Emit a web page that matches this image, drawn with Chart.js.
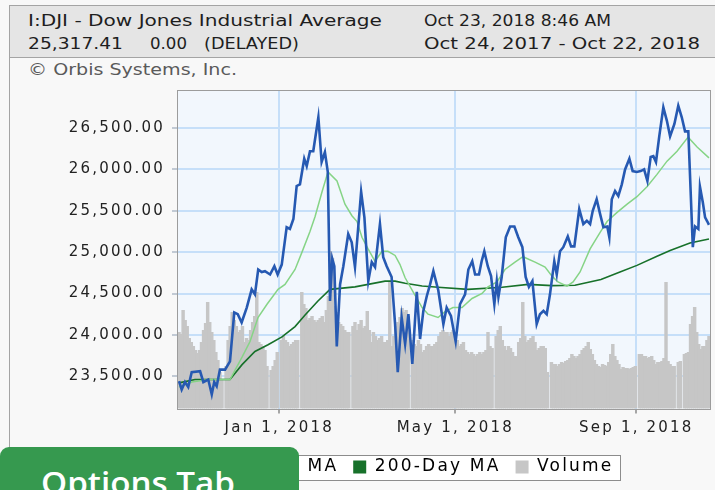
<!DOCTYPE html>
<html>
<head>
<meta charset="utf-8">
<script src="https://cdn.jsdelivr.net/npm/chart.js@4.4.0/dist/chart.umd.min.js"></script>
<style>
  html, body { margin: 0; padding: 0; }
  body { width: 715px; height: 490px; overflow: hidden; position: relative; background: #f8f8f8; font-family: 'DejaVu Sans', sans-serif; }
  #frame { position: absolute; left: 9px; top: 5px; width: 720px; height: 480px; border-left: 1px solid #a4a4a4; }
  #band { position: absolute; left: 9px; top: 5px; width: 706px; height: 51px; background: #e5e5e5; border: 1px solid #a4a4a4; border-right: none; }
  .t { position: absolute; font-size: 15px; line-height: 17px; color: #1e1e1e; white-space: nowrap; transform-origin: 0 0; }
  .c { color: #5a5a5a; }
  #chart { position: absolute; left: 0; top: 0; }
  #tab { position: absolute; left: 0; top: 447px; width: 299px; height: 60px; background: #36994f; border-radius: 9px 9px 0 0; }
  #tab span { position: absolute; left: 41px; top: 20px; font-family: 'Open Sans', sans-serif; font-weight: 600; font-size: 31px; line-height: 31px; color: #fff; white-space: nowrap; transform-origin: 0 0; }
</style>
</head>
<body>
<div id="frame"></div>
<div id="band"></div>
<span class="t" style="left:28px;top:13px" data-w="354">I:DJI - Dow Jones Industrial Average</span>
<span class="t" style="left:424px;top:13px" data-w="187">Oct 23, 2018 8:46 AM</span>
<span class="t" style="left:28px;top:36px" data-w="95">25,317.41</span>
<span class="t" style="left:150px;top:36px" data-w="37">0.00</span>
<span class="t" style="left:204px;top:36px" data-w="95">(DELAYED)</span>
<span class="t" style="left:424px;top:36px" data-w="276">Oct 24, 2017 - Oct 22, 2018</span>
<span class="t c" style="left:28px;top:62px" data-w="209">© Orbis Systems, Inc.</span>
<canvas id="chart" width="715" height="490"></canvas>
<div id="tab"><span data-w="194">Options Tab</span></div>
<script>
// x positions are weekday slots counted from Tue Oct 24, 2017 (slot 0)
const xTickPos = [49, 135, 223.5];
const xTickLabels = ['Jan 1, 2018', 'May 1, 2018', 'Sep 1, 2018'];
const yTicks = [23500, 24000, 24500, 25000, 25500, 26000, 26500];
const seriesNames = ['I:DJI', '50-Day MA', '200-Day MA', 'Volume'];

const priceX = [0, 1.3, 2.9, 4.5, 6.2, 10.3, 11.9, 14.3, 16, 17.2, 18.4, 20, 22.5, 24.9, 27, 28.7, 30.6, 33.1, 35.5, 37.1,
  38.7, 40.4, 42, 44.5, 46.6, 48.2, 50.2, 52.6, 54.2, 55.9, 57.5, 59.1, 61.2, 62.4, 64, 65.6, 68.1, 69.7, 71.3, 72.7,
  73.8, 74.9, 75.9, 77.1, 78.7, 80.3, 82.7, 84.4, 86, 89, 90.6, 92.5, 94.2, 95.8, 98.2, 99.8, 101.5, 103.9, 105.6, 106.9,
  108.8, 110.5, 112.1, 114, 116.2, 117.8, 119.4, 121.1, 122.7, 124.3, 126.7, 129.2, 130.8, 132.9, 135.2, 137.3, 139.8, 141.4, 143.3, 144.7,
  146.6, 147.9, 149.2, 150.9, 152.5, 154.1, 155.3, 156.1, 157.7, 159.7, 161.8, 163.9, 165.8, 167.8, 169.4, 171, 172.7, 174.8, 176.4, 178.1,
  179.7, 181.3, 183.4, 184.6, 186.2, 187.8, 190, 191.6, 193.2, 195.6, 197.6, 199.3, 200.9, 202.2, 204.1, 205.8, 207.4, 209.3, 210.3, 211.5,
  213.1, 214.7, 216.4, 218, 220.1, 221.7, 223.7, 225.6, 227.3, 228.9, 230.5, 231.8, 233.1, 234.7, 236.7, 238.4, 240, 242.1, 244, 245.7,
  247.3, 248.9, 251.1, 252.2, 253.8, 254.6, 256, 257.1, 258.2, 259];
const priceY = [23440, 23340, 23430, 23370, 23550, 23560, 23430, 23460, 23280, 23430, 23380, 23580, 23580, 23680, 24270, 24250, 24150, 24330, 24550, 24490,
  24790, 24760, 24770, 24730, 24830, 24730, 24850, 25300, 25280, 25400, 25800, 25820, 26130, 26040, 26220, 26220, 26630, 26090, 26210, 25970,
  24410, 24920, 24830, 23860, 24610, 24830, 25220, 25120, 24820, 25730, 25420, 24650, 24880, 24820, 25340, 24940, 24830, 24700, 24130, 23550,
  24210, 23890, 24250, 23650, 24520, 23950, 24290, 24470, 24610, 24770, 24540, 24130, 24330, 24230, 23920, 24370, 24490, 24790, 24890, 24730,
  24730, 24890, 25010, 24830, 24710, 24370, 24650, 24460, 24700, 25180, 25310, 25310, 25180, 25060, 24700, 24580, 24650, 24130, 24250, 24290,
  24250, 24490, 24890, 24730, 25010, 25060, 25190, 25070, 25070, 25520, 25340, 25380, 25340, 25500, 25640, 25460, 25300, 25310, 25180, 25640,
  25740, 25680, 25820, 26000, 26130, 25980, 25970, 25980, 26000, 25860, 26150, 26160, 26090, 26400, 26750, 26590, 26400, 26550, 26770, 26630,
  26460, 26460, 25060, 25310, 25280, 25790, 25600, 25420, 25370, 25330];

const ma50X = [0, 6.3, 14.2, 24.9, 30.8, 34.7, 38.6, 43, 48.4, 51.8, 56.7, 60.1, 64, 66.5, 69.9, 72.8, 77.2, 81.1, 84.5, 87,
  89.4, 92.4, 95.8, 99.2, 102.1, 105.6, 108, 110.5, 114.4, 118.8, 121.7, 126.6, 130, 133.9, 138.3, 143.2, 148.1, 151, 155.4, 159.3,
  164.2, 168.1, 174, 178.9, 182.3, 185.2, 189.6, 192.6, 196, 200.9, 205.8, 209.2, 214.1, 219, 223.8, 228.7, 233.6, 238.5, 243.4, 248.8,
  253.2, 259];
const ma50Y = [23370, 23430, 23460, 23460, 23730, 23920, 24210, 24370, 24550, 24610, 24790, 25000, 25250, 25430, 25730, 25970, 25860, 25580, 25440, 25370,
  25180, 25040, 24890, 25010, 25010, 24960, 24850, 24690, 24520, 24330, 24250, 24210, 24280, 24330, 24330, 24440, 24500, 24580, 24640, 24790,
  24880, 24945, 24880, 24820, 24710, 24640, 24590, 24640, 24760, 25040, 25240, 25370, 25480, 25580, 25670, 25790, 25940, 26100, 26220, 26390,
  26270, 26140];

const ma200X = [0, 7.8, 24.9, 30.8, 37.1, 43.5, 50.3, 56.7, 61.6, 67.9, 73.8, 86, 92.4, 100.7, 105.6, 110.5, 118.8, 126.6, 141.2, 157.9,
  170.6, 182.3, 193.5, 206.2, 215.5, 223.8, 233.6, 240, 249.7, 259];
const ma200Y = [23420, 23460, 23460, 23640, 23800, 23880, 23975, 24100, 24240, 24410, 24550, 24580, 24610, 24650, 24650, 24625, 24590, 24575, 24550, 24575,
  24610, 24595, 24600, 24670, 24760, 24840, 24950, 25020, 25110, 25160];

// volume (millions), one per weekday slot; null = market closed
const volume = [
  228, 222, 294, 264, 246, 210, 198, 186, 174, 165,
  174, 198, 234, 255, 318, 258, 228, 204, 168, 144,
  108, 87, null, 126, 204, 246, 288, 264, 246, 228,
  234, 246, 198, 210, 204, 234, 258, 276, 348, 198,
  192, 186, 174, 126, null, 114, 126, 144, 168, null,
  204, 216, 204, 198, 186, 192, 198, 204, 204, null,
  348, 312, 300, 264, 270, 276, 264, 258, 264, 270,
  276, 258, 294, 336, 471, 450, 306, 288, 258, 252,
  246, 234, 228, 228, null, 246, 258, 234, 252, 264,
  240, 246, 291, 234, 198, 228, 216, 204, 210, 216,
  198, 198, 204, 378, 186, 216, 246, 258, 273, 300,
  288, 294, 276, null, 204, 192, 186, 204, 192, 168,
  174, 186, 192, 186, 186, 192, 198, 216, 228, 234,
  228, 228, 216, 228, 234, 210, 204, 186, 192, 198,
  174, 168, 162, 168, 162, 156, 162, 168, 162, 168,
  174, 228, 186, 180, null, 216, 234, 246, 204, 186,
  174, 186, 180, 168, 156, 156, 198, 210, 318, 216,
  198, 204, 210, 216, 198, 174, 180, 186, 186, 180,
  108, null, 138, 132, 132, 126, 132, 138, 135, 141,
  144, 150, 162, 156, 150, 156, 162, 174, 180, 186,
  198, 177, 162, 144, 132, 126, 123, 132, 129, 126,
  138, 162, 192, 156, 144, 132, 117, 123, 120, 120,
  117, 120, 123, 126, null, 162, 162, 156, 156, 150,
  153, 156, 144, 132, 138, 138, 141, 150, 378, 141,
  132, 126, 126, null, 138, 141, null, 162, 165, 168,
  252, 276, 303, 228, 192, 177, 186, 186, 204, 216
];

const seriesColors = ['#2659b2', '#86d486', '#17712a', '#c6c6c6'];
const gridColor = '#c6dff9';

const toPoints = (xs, ys) => xs.map((x, i) => ({ x: x, y: ys[i] }));

// fit header texts to the widths they have in the picture
document.querySelectorAll('[data-w]').forEach(el => {
  const w = el.getBoundingClientRect().width;
  el.style.transform = 'scaleX(' + (el.dataset.w / w) + ')';
});

const legendBox = chart => {
  const boxes = chart.legend.legendHitBoxes;
  const first = boxes[0], last = boxes[boxes.length - 1];
  const l = Math.round(first.left - 6) + 0.5;
  const r = Math.round(last.left + last.width + 7) + 0.5;
  const t = Math.round(first.top - 4) + 0.5;
  const b = Math.round(first.top + first.height + 4) + 0.5;
  return { l, r, t, b };
};

const plotBackground = {
  id: 'plotBackground',
  beforeDraw(chart) {
    const { ctx, chartArea: a } = chart;
    ctx.save();
    ctx.fillStyle = '#f2f7fd';
    ctx.fillRect(a.left, a.top, a.right - a.left, a.bottom - a.top);
    const lb = legendBox(chart);
    ctx.fillStyle = '#ffffff';
    ctx.fillRect(lb.l, lb.t, lb.r - lb.l, lb.b - lb.t);
    ctx.strokeStyle = '#8c8c8c';
    ctx.lineWidth = 1;
    ctx.strokeRect(lb.l, lb.t, lb.r - lb.l, lb.b - lb.t);
    ctx.restore();
  }
};

// the picture's labels are widely spaced
const letterSpacing = {
  id: 'letterSpacing',
  beforeLayout(chart) { chart.ctx.letterSpacing = '2.2px'; },
  afterLayout(chart) {
    // legend sits a little right of the page centre
    chart.legend.left += 9;
    chart.legend.right += 9;
  },
  beforeDraw(chart) { chart.ctx.letterSpacing = '2.2px'; }
};

const frames = {
  id: 'frames',
  afterDraw(chart) {
    const { ctx, chartArea: a } = chart;
    ctx.save();
    ctx.strokeStyle = '#9c9c9c';
    ctx.lineWidth = 1;
    ctx.strokeRect(Math.round(a.left) - 0.5, Math.round(a.top) + 0.5,
      Math.round(a.right - a.left) + 1, Math.round(a.bottom - a.top));
    ctx.restore();
  }
};

Chart.defaults.font.family = "'DejaVu Sans', sans-serif";
Chart.defaults.font.size = 15;
Chart.defaults.color = '#222';

new Chart(document.getElementById('chart'), {
  type: 'bar',
  data: {
    datasets: [
      {
        type: 'line', label: seriesNames[0], data: toPoints(priceX, priceY), yAxisID: 'y',
        borderColor: seriesColors[0], backgroundColor: seriesColors[0], borderWidth: 2.6,
        pointRadius: 0, tension: 0, order: 1
      },
      {
        type: 'line', label: seriesNames[1], data: toPoints(ma50X, ma50Y), yAxisID: 'y',
        borderColor: seriesColors[1], backgroundColor: seriesColors[1], borderWidth: 1.5,
        pointRadius: 0, tension: 0, order: 2
      },
      {
        type: 'line', label: seriesNames[2], data: toPoints(ma200X, ma200Y), yAxisID: 'y',
        borderColor: seriesColors[2], backgroundColor: seriesColors[2], borderWidth: 1.6,
        pointRadius: 0, tension: 0, order: 3
      },
      {
        type: 'bar', label: seriesNames[3], yAxisID: 'y2',
        data: volume.map((v, i) => (v === null ? null : { x: i, y: v })).filter(p => p !== null),
        backgroundColor: seriesColors[3], borderWidth: 0,
        barThickness: 2.8, order: 4
      }
    ]
  },
  options: {
    responsive: false,
    devicePixelRatio: 1,
    animation: false,
    events: [],
    layout: { padding: { left: 8, top: 90, right: 5, bottom: 4.5 } },
    plugins: {
      tooltip: { enabled: false },
      legend: {
        position: 'bottom',
        labels: {
          boxWidth: 13,
          boxHeight: 13,
          padding: 15,
          color: '#222',
          font: { size: 17 },
          generateLabels: chart => chart.data.datasets.map((ds, i) => ({
            text: ds.label, fillStyle: seriesColors[i], strokeStyle: seriesColors[i],
            lineWidth: 0, hidden: false, datasetIndex: i
          }))
        }
      }
    },
    scales: {
      x: {
        type: 'linear',
        min: -0.5,
        max: 259.5,
        offset: false,
        afterBuildTicks: s => { s.ticks = xTickPos.map(v => ({ value: v })); },
        afterFit: s => { s.height = 35; },
        ticks: {
          callback: (v, i) => xTickLabels[i],
          autoSkip: false, maxRotation: 0, padding: 6, color: '#222'
        },
        grid: { color: gridColor, lineWidth: 2, offset: false, tickLength: 5, tickColor: '#555', tickWidth: 1 },
        border: { display: false }
      },
      y: {
        position: 'left',
        min: 23110,
        max: 26960,
        afterBuildTicks: s => { s.ticks = yTicks.map(v => ({ value: v })); },
        afterFit: s => { s.width = 170; },
        ticks: {
          callback: v => v.toLocaleString('en-US', { minimumFractionDigits: 2, maximumFractionDigits: 2 }),
          padding: 7, color: '#222'
        },
        grid: { color: gridColor, lineWidth: 2, tickLength: 6, tickColor: '#8a9bb0', tickWidth: 1 },
        border: { display: false }
      },
      y2: { position: 'right', display: false, min: 0, max: 954 }
    }
  },
  plugins: [plotBackground, letterSpacing, frames]
});
</script>
</body>
</html>
